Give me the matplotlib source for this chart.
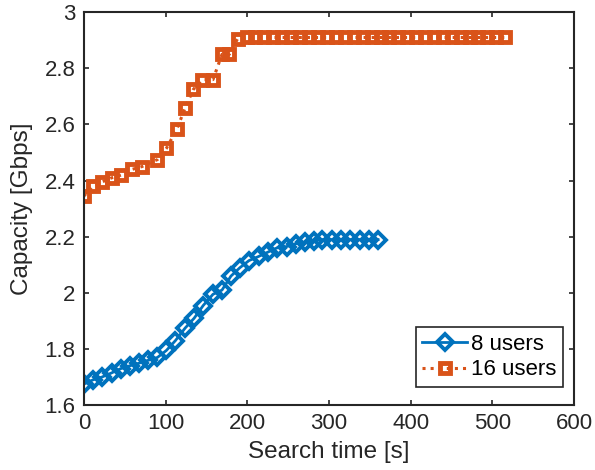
import matplotlib
matplotlib.use('Agg')
import matplotlib.pyplot as plt

plt.rcParams['font.family'] = ['Liberation Sans', 'DejaVu Sans']

# 8 users
t8 = [0, 11, 22, 34, 45, 56, 68, 79, 90, 101, 112, 124, 135, 146, 158, 169, 180,
      191, 202, 214, 225, 236, 248, 259, 270, 281, 292, 304, 315, 326, 338, 349, 360]
cap8 = [1.675, 1.69, 1.70, 1.715, 1.73, 1.74, 1.75, 1.76, 1.77, 1.795, 1.83, 1.875,
        1.91, 1.955, 1.995, 2.01, 2.06, 2.09, 2.115, 2.13, 2.145, 2.16, 2.165, 2.175,
        2.18, 2.185, 2.19, 2.19, 2.19, 2.19, 2.19, 2.19, 2.19]

# 16 users
t16 = [0, 11, 22, 34, 46, 59, 71, 90, 101, 114, 124, 134, 145, 158, 169, 178, 188,
       199, 210, 221, 232, 243, 254, 264, 275, 286, 297, 308, 319, 330, 341, 352,
       363, 373, 384, 395, 406, 417, 428, 439, 450, 461, 472, 482, 493, 504, 515]
cap16 = [2.345, 2.38, 2.395, 2.41, 2.42, 2.44, 2.45, 2.475, 2.515, 2.585, 2.66,
         2.725, 2.76, 2.76, 2.85, 2.85, 2.905] + [2.91] * 30

labels = ['8 users', '16 users']
axcol = '#262626'

fig = plt.figure(figsize=(5.95, 4.70), dpi=100)
ax = fig.add_axes([0.141, 0.138, 0.824, 0.836])

ax.plot(t8, cap8, '-', color='#0072BD', lw=2, marker='D', ms=8.3, mew=2.8,
        mfc='none', label=labels[0])
ax.plot(t16, cap16, ':', color='#D95319', lw=2.2, marker='s', ms=7.6, mew=3.5,
        mfc='none', label=labels[1])

ax.set_xlim(0, 600)
ax.set_ylim(1.6, 3)
ax.set_xticks(range(0, 601, 100))
ax.set_yticks([1.6, 1.8, 2, 2.2, 2.4, 2.6, 2.8, 3])
ax.set_yticklabels(['1.6', '1.8', '2', '2.2', '2.4', '2.6', '2.8', '3'])
ax.tick_params(direction='in', top=True, right=True, length=3.5, width=1.2,
               labelsize=16, colors=axcol, pad=6)
for s in ax.spines.values():
    s.set_linewidth(1.5)
    s.set_color(axcol)

ax.set_xlabel('Search time [s]', fontsize=17.5, color=axcol, labelpad=5)
ax.set_ylabel('Capacity [Gbps]', fontsize=17.5, color=axcol, labelpad=8)

leg = ax.legend(loc='lower right', bbox_to_anchor=(0.978, 0.046), borderaxespad=0,
                fontsize=16, fancybox=False, framealpha=1, edgecolor=axcol,
                handlelength=2.0, handletextpad=0.2, labelspacing=0.2,
                borderpad=0.3)
leg.get_frame().set_linewidth(1.2)

fig.savefig('out.png', dpi=100)
